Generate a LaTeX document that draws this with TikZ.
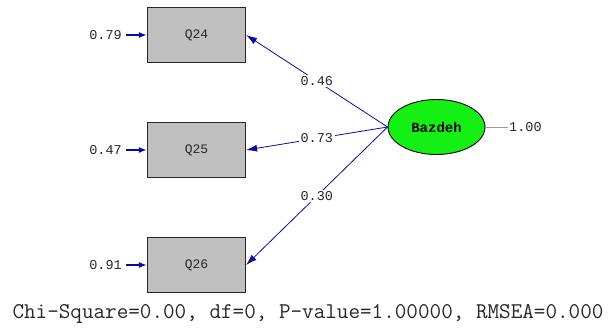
\documentclass[tikz,border=0pt]{standalone}
\usepackage{fontspec}
\newfontfamily\lblfont{Liberation Mono}
\usetikzlibrary{arrows.meta,shapes.geometric}
\definecolor{navy}{RGB}{10,10,160}
\definecolor{boxgray}{RGB}{192,192,192}
\definecolor{latgreen}{RGB}{20,240,20}
\definecolor{txt}{RGB}{40,40,40}
\tikzset{
  obsbox/.style={draw=black!85, line width=1.2pt, fill=boxgray, minimum width=98pt, minimum height=55pt, inner sep=0pt, font=\lblfont\fontsize{13}{13}\selectfont, text=txt},
  latent/.style={draw=black, line width=0.9pt, fill=latgreen, ellipse, minimum width=97pt, minimum height=55pt, inner sep=0pt, font=\lblfont\bfseries\fontsize{14}{14}\selectfont},
  lbl/.style={font=\lblfont\fontsize{13.5}{13.5}\selectfont, text=txt, inner sep=1pt},
  pathlbl/.style={lbl, fill=white, inner sep=1.5pt},
  loadarrow/.style={draw=navy, line width=0.8pt, -{Latex[length=11pt,width=7pt]}},
  errarrow/.style={draw=navy, line width=2pt, -{Latex[length=8pt,width=6pt]}},
}
\begin{document}
\begin{tikzpicture}[x=1pt,y=-1pt]
\useasboundingbox (0,0) rectangle (608,329);
\node[obsbox] (q24) at (196.5,35) {Q24};
\node[obsbox] (q25) at (196.5,150) {Q25};
\node[obsbox] (q26) at (196.5,265) {Q26};
\node[latent] (baz) at (436.5,127) {Bazdeh};
% error labels
\node[lbl, anchor=east] (e24) at (123,35) {0.79};
\node[lbl, anchor=east] (e25) at (123,150) {0.47};
\node[lbl, anchor=east] (e26) at (123,265) {0.91};
\draw[errarrow] (e24.east) ++(3,0) -- (q24.west);
\draw[errarrow] (e25.east) ++(3,0) -- (q25.west);
\draw[errarrow] (e26.east) ++(3,0) -- (q26.west);
% loadings
\draw[loadarrow] (baz.west) -- node[pathlbl, pos=0.5] {0.46} (q24.east);
\draw[loadarrow] (baz.west) -- node[pathlbl, pos=0.5] {0.73} (q25.east);
\draw[loadarrow] (baz.west) -- node[pathlbl, pos=0.5] {0.30} (q26.east);
% latent variance
\node[lbl, anchor=west] (v) at (508,127) {1.00};
\draw[draw=black!40, line width=0.7pt] (baz.east) -- (v.west);
% fit statistics
\node[font=\ttfamily\fontsize{22.5}{22.5}\selectfont, text=txt, anchor=base] (fit) at (308,318) {Chi-Square=0.00, df=0, P-value=1.00000, RMSEA=0.000};
\end{tikzpicture}
\end{document}
